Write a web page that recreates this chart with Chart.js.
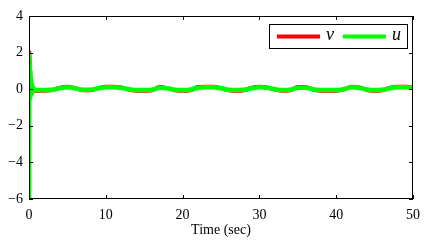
<!DOCTYPE html>
<html>
<head>
<meta charset="utf-8">
<script src="https://cdn.jsdelivr.net/npm/chart.js@4/dist/chart.umd.min.js"></script>
<style>
  html, body { margin: 0; padding: 0; background: #fff; }
  #wrap { width: 436px; height: 245px; }
</style>
</head>
<body>
<div id="wrap"><canvas id="chart" width="436" height="245"></canvas></div>
<script>
// time samples (sec)
const timeV = [0, 0.02, 0.3, 1, 2, 3, 4, 5, 6, 7, 8, 9, 10, 11, 12, 13, 14, 15, 16, 17, 18, 19, 20,
  21, 22, 23, 24, 25, 26, 27, 28, 29, 30, 31, 32, 33, 34, 35, 36, 37, 38, 39, 40, 41, 42, 43, 44,
  45, 46, 47, 48, 49, 50];
const vValues = [2.1, 2.05, -0.1, -0.08, -0.08, -0.05, 0.08, 0.14, 0.06, -0.06, -0.06, 0.06, 0.14, 0.14, 0.1,
  -0.02, -0.09, -0.09, -0.06, 0.12, 0.06, -0.06, -0.09, -0.06, 0.12, 0.14, 0.14, 0.06, -0.06, -0.09,
  -0.06, 0.08, 0.14, 0.1, -0.02, -0.09, -0.06, 0.12, 0.12, -0.02, -0.09, -0.09, -0.09, 0.0, 0.14, 0.1,
  -0.04, -0.09, -0.06, 0.08, 0.14, 0.14, 0.1];

const timeU = [0, 0.02, 0.04, 0.07, 0.1, 0.14, 0.18, 0.22, 0.27, 0.32, 0.38, 0.45, 0.55, 0.7, 1, 2, 3, 4, 5,
  6, 7, 8, 9, 10, 11, 12, 13, 14, 15, 16, 17, 18, 19, 20, 21, 22, 23, 24, 25, 26, 27, 28, 29, 30, 31,
  32, 33, 34, 35, 36, 37, 38, 39, 40, 41, 42, 43, 44, 45, 46, 47, 48, 49, 50];
const uValues = [2.0, -6.0, 1.8, -0.6, 1.4, -0.5, 1.0, -0.4, 0.6, -0.3, 0.3, -0.15, 0.1, -0.05, -0.05, -0.05,
  -0.03, 0.05, 0.1, 0.05, -0.03, -0.03, 0.05, 0.1, 0.1, 0.08, 0.0, -0.05, -0.05, -0.03, 0.08, 0.05,
  -0.03, -0.05, -0.03, 0.08, 0.1, 0.1, 0.05, -0.03, -0.05, -0.03, 0.05, 0.1, 0.08, 0.0, -0.05, -0.03,
  0.08, 0.08, 0.0, -0.05, -0.05, -0.05, 0.0, 0.1, 0.08, -0.02, -0.05, -0.03, 0.05, 0.1, 0.1, 0.08];

const xTicks = [0, 10, 20, 30, 40, 50];
const yTicks = [-6, -4, -2, 0, 2, 4];

const FONT = "'Liberation Serif', 'Times New Roman', serif";

// box + inward ticks, matlab style
const frame = {
  id: 'frame',
  afterDraw(chart) {
    const c = chart.ctx, a = chart.chartArea;
    const sx = chart.scales.x, sy = chart.scales.y;
    c.save();
    c.strokeStyle = '#000';
    c.lineWidth = 1;
    c.strokeRect(a.left + 0.5, a.top + 0.5, a.right - a.left - 1, a.bottom - a.top - 1);
    c.beginPath();
    xTicks.forEach(t => {
      const px = Math.round(sx.getPixelForValue(t)) + 0.5;
      c.moveTo(px, a.bottom); c.lineTo(px, a.bottom - 4);
      c.moveTo(px, a.top); c.lineTo(px, a.top + 4);
    });
    yTicks.forEach(t => {
      const py = Math.round(sy.getPixelForValue(t)) + 0.5;
      c.moveTo(a.left, py); c.lineTo(a.left + 4, py);
      c.moveTo(a.right, py); c.lineTo(a.right - 4, py);
    });
    c.stroke();

    // legend box
    const lx = 269, ly = 24, lw = 138, lh = 24;
    c.fillStyle = '#fff';
    c.fillRect(lx, ly, lw, lh);
    c.strokeRect(lx + 0.5, ly + 0.5, lw, lh);
    let x = lx + 8;
    chart.data.datasets.forEach(ds => {
      c.strokeStyle = ds.borderColor;
      c.lineWidth = 4;
      c.beginPath();
      c.moveTo(x, ly + 12.5); c.lineTo(x + 43, ly + 12.5);
      c.stroke();
      c.fillStyle = '#000';
      c.font = "italic 18px " + FONT;
      c.textBaseline = 'middle';
      c.fillText(ds.label, x + 49, ly + 11);
      x += 66;
    });
    c.restore();
  }
};

new Chart(document.getElementById('chart'), {
  type: 'line',
  data: {
    datasets: [
      {
        label: 'v',
        data: timeV.map((t, i) => ({ x: t, y: vValues[i] })),
        borderColor: '#ff0000',
        borderWidth: 4,
        pointRadius: 0,
        order: 2,
        cubicInterpolationMode: 'monotone'
      },
      {
        label: 'u',
        data: timeU.map((t, i) => ({ x: t, y: uValues[i] })),
        borderColor: '#00ff00',
        borderWidth: 4.5,
        pointRadius: 0,
        order: 1,
        cubicInterpolationMode: 'monotone'
      }
    ]
  },
  options: {
    responsive: false,
    animation: false,
    layout: { padding: { left: 0, top: 16, right: 23, bottom: 0 } },
    plugins: { legend: { display: false }, tooltip: { enabled: false } },
    scales: {
      x: {
        type: 'linear',
        min: 0, max: 50,
        grid: { display: false, drawTicks: false },
        border: { display: false },
        afterBuildTicks: s => { s.ticks = xTicks.map(v => ({ value: v })); },
        afterFit: s => { s.height = 46; },
        ticks: { color: '#000', padding: 8, maxRotation: 0, font: { family: FONT, size: 14 } },
        title: { display: true, text: 'Time (sec)', color: '#000', padding: { top: 0, bottom: 6 }, font: { family: FONT, size: 14 } }
      },
      y: {
        min: -6, max: 4,
        grid: { display: false, drawTicks: false },
        border: { display: false },
        afterBuildTicks: s => { s.ticks = yTicks.map(v => ({ value: v })); },
        afterFit: s => { s.width = 29; },
        ticks: {
          color: '#000', padding: 6,
          font: { family: FONT, size: 14 },
          callback: v => String(v).replace('-', '\u2212')
        }
      }
    }
  },
  plugins: [frame]
});
</script>
</body>
</html>
